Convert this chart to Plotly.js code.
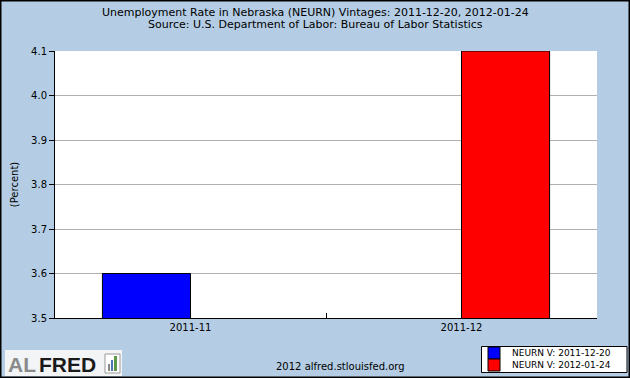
<!DOCTYPE html>
<html><head><meta charset="utf-8">
<script src="https://cdn.plot.ly/plotly-3.0.1.min.js"></script>
<style>body{margin:0;padding:0;}#chart{width:630px;height:378px;}</style>
</head><body><div id="chart"></div>
<script>
var categories = ['2011-11', '2011-12'];
var seriesNames = ['NEURN V: 2011-12-20', 'NEURN V: 2012-01-24'];
var seriesColors = ['#0000ff', '#ff0000'];
var vintage1 = [3.6, null];
var vintage2 = [null, 4.1];
var yTicks = [3.5, 3.6, 3.7, 3.8, 3.9, 4.0, 4.1];

var W = 630, H = 378, L = 55, R = 33, T = 51, B = 60;
var pw = W - L - R, ph = H - T - B;
function px(x) { return (x - L) / pw; }
function py(y) { return (H - B - y) / ph; }

var font = 'DejaVu Sans, Verdana, sans-serif';
var traces = [
  {type: 'bar', x: categories, y: vintage1, name: seriesNames[0],
   marker: {color: seriesColors[0], line: {color: '#000', width: 1}}},
  {type: 'bar', x: categories, y: vintage2, name: seriesNames[1],
   marker: {color: seriesColors[1], line: {color: '#000', width: 1}}}
];

var shapes = [
  {type: 'rect', xref: 'paper', yref: 'paper', x0: px(0.75), x1: px(629.25), y0: py(377.25), y1: py(0.75),
   line: {color: '#000', width: 1.5}, fillcolor: 'rgba(0,0,0,0)', layer: 'above'},
  {type: 'rect', xref: 'paper', yref: 'paper', x0: px(5), x1: px(122), y0: py(376), y1: py(350),
   line: {width: 0}, fillcolor: '#f2f4f6'},
  {type: 'rect', xref: 'paper', yref: 'paper', x0: px(105), x1: px(120), y0: py(373), y1: py(354),
   line: {color: '#999', width: 1}, fillcolor: '#fff'},
  {type: 'rect', xref: 'paper', yref: 'paper', x0: px(108), x1: px(110), y0: py(371), y1: py(364),
   line: {width: 0}, fillcolor: '#888'},
  {type: 'rect', xref: 'paper', yref: 'paper', x0: px(111), x1: px(113), y0: py(371), y1: py(360),
   line: {width: 0}, fillcolor: '#4a78b8'},
  {type: 'rect', xref: 'paper', yref: 'paper', x0: px(114), x1: px(117), y0: py(371), y1: py(356),
   line: {width: 0}, fillcolor: '#5a9a4a'},
  {type: 'rect', xref: 'paper', yref: 'paper', x0: px(481.5), x1: px(627), y0: py(372.5), y1: py(346.5),
   line: {color: '#000', width: 1}, fillcolor: '#fff'}
];
var annotations = [
  {text: 'Unemployment Rate in Nebraska (NEURN) Vintages: 2011-12-20, 2012-01-24', xref: 'paper', yref: 'paper',
   x: px(315), y: py(12), showarrow: false, xanchor: 'center', yanchor: 'middle', font: {family: font, size: 11}},
  {text: 'Source: U.S. Department of Labor: Bureau of Labor Statistics', xref: 'paper', yref: 'paper',
   x: px(315), y: py(25), showarrow: false, xanchor: 'center', yanchor: 'middle', font: {family: font, size: 11}},
  {text: '2012 alfred.stlouisfed.org', xref: 'paper', yref: 'paper', x: px(340), y: py(366),
   showarrow: false, font: {family: font, size: 10}, xanchor: 'center', yanchor: 'middle'},
  {text: '<b>AL</b>', xref: 'paper', yref: 'paper', x: px(6), y: py(364), showarrow: false,
   xanchor: 'left', yanchor: 'middle', font: {family: 'Liberation Sans, Arial, sans-serif', size: 21, color: '#8a8a8a'}},
  {text: '<b>FRED</b>', xref: 'paper', yref: 'paper', x: px(37), y: py(364), showarrow: false,
   xanchor: 'left', yanchor: 'middle', font: {family: 'Liberation Sans, Arial, sans-serif', size: 21, color: '#1a1a1a'}}
];
seriesNames.forEach(function(name, i) {
  var yc = 353 + i * 12;
  shapes.push({type: 'rect', xref: 'paper', yref: 'paper', x0: px(488), x1: px(500), y0: py(yc + 6), y1: py(yc - 6),
    line: {color: '#000', width: 1}, fillcolor: seriesColors[i]});
  annotations.push({text: name, xref: 'paper', yref: 'paper', x: px(510), y: py(yc), showarrow: false,
    xanchor: 'left', yanchor: 'middle', font: {family: font, size: 9}});
});

var layout = {
  width: W, height: H,
  margin: {l: L, r: R, t: T, b: B, autoexpand: false},
  paper_bgcolor: '#b4cde4',
  plot_bgcolor: '#ffffff',
  barmode: 'group', bargap: 0.35, bargroupgap: 0,
  showlegend: false,
  font: {family: font, size: 10, color: '#000'},
  xaxis: {type: 'category', tickson: 'boundaries', ticks: 'inside', ticklen: 5, tickcolor: '#000',
          showline: true, linecolor: '#000', linewidth: 1, mirror: false, showgrid: false,
          tickfont: {family: font, size: 10}, fixedrange: true},
  yaxis: {range: [3.5, 4.1], tickvals: yTicks, ticktext: yTicks.map(function(v){return v.toFixed(1);}),
          ticks: 'outside', ticklen: 5, tickcolor: '#000', showline: true, linecolor: '#000', linewidth: 1,
          showgrid: true, gridcolor: '#b0b0b0', gridwidth: 1, zeroline: false,
          tickfont: {family: font, size: 10},
          title: {text: '(Percent)', font: {family: font, size: 10}, standoff: 10}},
  shapes: shapes,
  annotations: annotations
};

Plotly.newPlot('chart', traces, layout, {displayModeBar: false, staticPlot: true});
</script></body></html>
